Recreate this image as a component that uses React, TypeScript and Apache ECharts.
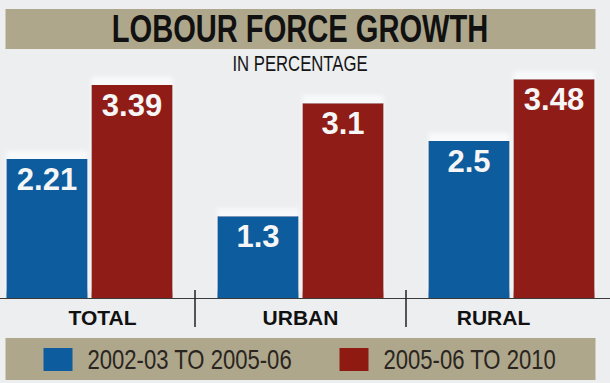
import React, { useEffect, useRef } from "react";
import * as echarts from "echarts";

const titleText = "LOBOUR FORCE GROWTH";
const subtitleText = "IN PERCENTAGE";
const categories = ["TOTAL", "URBAN", "RURAL"];
const seriesNames = ["2002-03 TO 2005-06", "2005-06 TO 2010"];
const periodA = [2.21, 1.3, 2.5];
const periodB = [3.39, 3.1, 3.48];

const BLUE = "#0c5c9e";
const RED = "#8f1a12";
const BANNER = "#aea78c";
const BG = "#eceef0";
const SANS = "'Liberation Sans', Arial, sans-serif";
// the chart canvas is shifted left so the three category slots sit where the reference has them
const SHIFT = 16.5;
const CHART_W = 633;

export default function App() {
  const ref = useRef<HTMLDivElement>(null);
  useEffect(() => {
    if (!ref.current) return;
    const chart = echarts.init(ref.current, null, { renderer: "svg" });
    const barShadow = {
      shadowColor: "rgba(255,255,255,0.65)",
      shadowBlur: 4,
      shadowOffsetY: -8,
    };
    const valueLabel = {
      show: true,
      position: "insideTop",
      distance: 5,
      color: "#f6f6f6",
      fontFamily: SANS,
      fontWeight: "bold",
      fontSize: 31,
    };
    const catLabelStyle = {
      fontFamily: SANS,
      fontWeight: "bold",
      fontSize: 21,
      color: "#111111",
    };
    const legendSwatches = [BLUE, RED];
    const legendSwatchX = [43, 339];
    const legendTextX = [87, 383];
    const legendGraphics: any[] = [];
    seriesNames.forEach((name, i) => {
      legendGraphics.push({
        type: "rect",
        shape: { x: legendSwatchX[i] + SHIFT, y: 348, width: 29, height: 23 },
        style: { fill: legendSwatches[i] },
        silent: true,
      });
      legendGraphics.push({
        type: "text",
        x: legendTextX[i] + SHIFT,
        y: 360,
        scaleX: 0.818,
        style: {
          text: name,
          fontFamily: SANS,
          fontSize: 27,
          fill: "#2a2520",
          align: "left",
          verticalAlign: "middle",
        },
        silent: true,
      });
    });
    chart.setOption({
      animation: false,
      backgroundColor: BG,
      grid: { left: 0, right: 0, top: 46.6, bottom: 85 },
      graphic: [
        {
          type: "rect",
          z: -1,
          shape: { x: 5 + SHIFT, y: 9, width: 590, height: 40 },
          style: { fill: BANNER },
          silent: true,
        },
        {
          type: "rect",
          z: -1,
          shape: { x: 5 + SHIFT, y: 338, width: 590, height: 42 },
          style: { fill: BANNER },
          silent: true,
        },
        {
          type: "text",
          x: 299.5 + SHIFT,
          y: 29,
          scaleX: 0.766,
          style: {
            text: titleText,
            fontFamily: SANS,
            fontWeight: "bold",
            fontSize: 38,
            fill: "#111111",
            align: "center",
            verticalAlign: "middle",
          },
        },
        {
          type: "text",
          x: 299.5 + SHIFT,
          y: 63,
          scaleX: 0.76,
          style: {
            text: subtitleText,
            fontFamily: SANS,
            fontSize: 22,
            fill: "#151515",
            align: "center",
            verticalAlign: "middle",
          },
        },
        ...legendGraphics,
      ],
      xAxis: [
        {
          type: "category",
          data: categories,
          axisLine: { show: true, lineStyle: { color: "#3a3a3a", width: 1 } },
          axisTick: { show: true, length: 29, lineStyle: { color: "#222", width: 1.5 } },
          axisLabel: {
            margin: 9,
            ...catLabelStyle,
            formatter: (v: string, i: number) => `{c${i}|${v}}`,
            rich: {
              c0: { ...catLabelStyle, padding: [0, 0, 0, 26] },
              c1: { ...catLabelStyle },
              c2: { ...catLabelStyle, padding: [0, 36, 0, 0] },
            },
          },
        },
        {
          type: "category",
          data: categories,
          position: "bottom",
          axisLine: { show: false },
          axisTick: { show: true, inside: true, length: 8, lineStyle: { color: "#222", width: 1.5 } },
          axisLabel: { show: false },
        },
      ],
      yAxis: {
        type: "value",
        min: 0,
        max: 4,
        show: false,
        splitLine: { show: false },
      },
      series: [
        {
          name: seriesNames[0],
          type: "bar",
          data: periodA,
          barWidth: 81,
          barGap: "5%",
          itemStyle: { color: BLUE, ...barShadow },
          label: valueLabel,
        },
        {
          name: seriesNames[1],
          type: "bar",
          data: periodB,
          barWidth: 81,
          barGap: "5%",
          itemStyle: { color: RED, ...barShadow },
          label: valueLabel,
        },
      ],
    });
    return () => chart.dispose();
  }, []);
  return (
    <div
      ref={ref}
      style={{ position: "fixed", left: -SHIFT, top: 0, width: CHART_W, height: 383 }}
    />
  );
}
